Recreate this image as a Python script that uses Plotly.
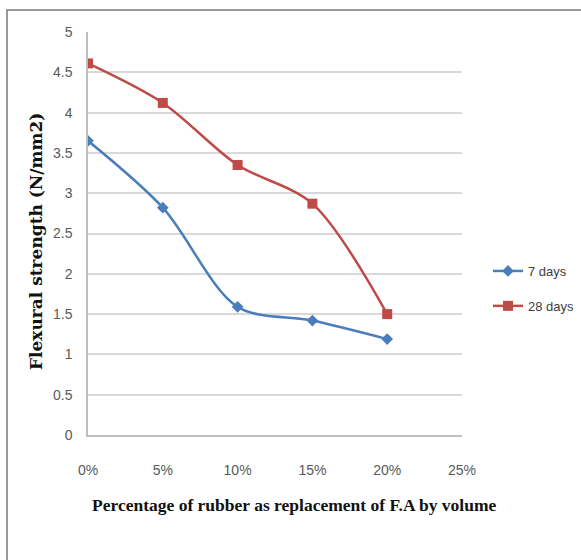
import plotly.graph_objects as go

# Rubber replacement level (% of fine aggregate by volume)
replacement = [0, 5, 10, 15, 20]
strength_7d = [3.65, 2.82, 1.59, 1.42, 1.19]
strength_28d = [4.61, 4.12, 3.35, 2.87, 1.50]

x_tick_vals = [0, 5, 10, 15, 20, 25]
x_tick_text = ["0%", "5%", "10%", "15%", "20%", "25%"]
y_tick_vals = [0, 0.5, 1, 1.5, 2, 2.5, 3, 3.5, 4, 4.5, 5]

BLUE = "#4A7EBB"
RED = "#BE4B48"
NARROW = "Liberation Sans Narrow, Arial Narrow, Liberation Sans"
TICK_FONT = dict(family=NARROW, size=14, color="#595959")

fig = go.Figure()
fig.add_trace(go.Scatter(
    x=replacement, y=strength_7d, name="7 days", mode="lines+markers",
    line=dict(color=BLUE, width=2.5, shape="spline", smoothing=0.9),
    marker=dict(symbol="diamond", size=9, color=BLUE),
    legendgroup="a",
))
fig.add_trace(go.Scatter(
    x=replacement, y=strength_28d, name="28 days", mode="lines+markers",
    line=dict(color=RED, width=2.5, shape="spline", smoothing=0.9),
    marker=dict(symbol="square", size=10, color=RED),
    legendgroup="b",
))

# Pixel geometry of the plotting area
W, H = 581, 560
L, R, T, B = 88, 119, 32, 125
pw, ph = W - L - R, H - T - B

def px_x(p):
    return (p - L) / pw

def px_y(p):
    return (H - B - p) / ph

fig.update_layout(
    width=W, height=H,
    margin=dict(l=L, r=R, t=T, b=B, autoexpand=False),
    paper_bgcolor="white", plot_bgcolor="white",
    showlegend=True,
    legend=dict(
        x=px_x(488), y=px_y(256), xanchor="left", yanchor="top",
        font=dict(family=NARROW, size=13, color="#404040"),
        traceorder="grouped", tracegroupgap=15, itemwidth=30,
        bgcolor="rgba(0,0,0,0)",
    ),
    xaxis=dict(
        range=[0, 25], tickvals=x_tick_vals, ticktext=x_tick_text,
        showgrid=False, zeroline=False, showline=True, linecolor="#BFBFBF", linewidth=1.5,
        ticks="", tickfont=TICK_FONT, ticklabelstandoff=21,
    ),
    yaxis=dict(
        range=[0, 5], tickvals=y_tick_vals,
        showgrid=True, gridcolor="#D9D9D9", gridwidth=1.5,
        zeroline=False, showline=True, linecolor="#BFBFBF", linewidth=1.5,
        ticks="", tickfont=TICK_FONT, ticklabelstandoff=11,
    ),
    shapes=[
        # outer chart frame
        dict(type="rect", xref="paper", yref="paper",
             x0=px_x(7), y0=px_y(575), x1=px_x(595), y1=px_y(10),
             line=dict(color="#999999", width=2), fillcolor="rgba(0,0,0,0)", layer="below"),
    ],
    annotations=[
        dict(text="<b>Percentage of rubber as replacement of F.A by volume</b>",
             xref="paper", yref="paper", x=px_x(294), y=px_y(505),
             showarrow=False, xanchor="center", yanchor="middle",
             font=dict(family="Liberation Serif, Times New Roman", size=17.5, color="#111111")),
        dict(text="<b>Flexural strength (N/mm2)</b>",
             xref="paper", yref="paper", x=px_x(36), y=px_y(242),
             showarrow=False, textangle=-90, xanchor="center", yanchor="middle",
             font=dict(family="DejaVu Serif", size=17, color="#111111")),
    ],
)

fig.write_html("out.html")
